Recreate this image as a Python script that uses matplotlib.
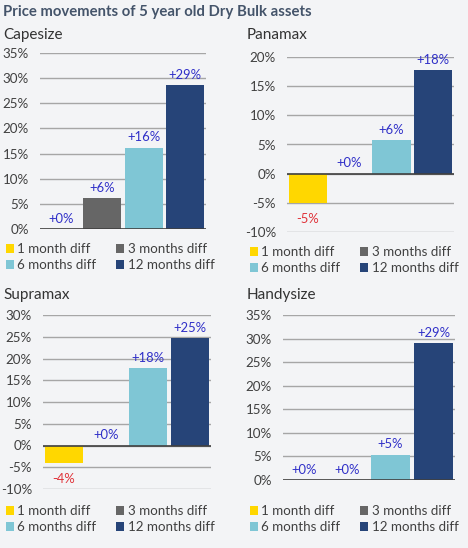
import matplotlib
matplotlib.use("Agg")
import matplotlib.pyplot as plt
from matplotlib.patches import Patch
from matplotlib.ticker import FuncFormatter

plt.rcParams['font.family'] = ['Lato', 'DejaVu Sans']

# Data
periods = ["1 month diff", "3 months diff", "6 months diff", "12 months diff"]
capesize = [0.0, 6.1, 16.2, 28.7]
panamax = [-5.1, 0.0, 5.8, 17.8]
supramax = [-4.1, 0.0, 17.8, 24.6]
handysize = [0.0, 0.0, 5.4, 29.0]
capesize_ticks = [0, 5, 10, 15, 20, 25, 30, 35]
panamax_ticks = [-10, -5, 0, 5, 10, 15, 20]
supramax_ticks = [-10, -5, 0, 5, 10, 15, 20, 25, 30]
handysize_ticks = [0, 5, 10, 15, 20, 25, 30, 35]

BG = '#f3f4f6'
COLORS = ['#ffd700', '#666666', '#7fc6d5', '#264478']
TXT = '#404040'
W, H = 468, 548


def fx(px):
    return px / W


def fy(py):
    return 1 - py / H


fig = plt.figure(figsize=(W / 100, H / 100), dpi=100, facecolor=BG)

fig.text(fx(3), fy(12), "Price movements of 5 year old Dry Bulk assets",
         fontsize=10.7, fontweight='bold', color='#44546a', va='center', ha='left')

panels = [
    ("Capesize", capesize, capesize_ticks, (40, 206, 53, 229), (3, 35), (6, 243)),
    ("Panamax", panamax, panamax_ticks, (287, 454, 57, 232), (247, 35), (250, 246)),
    ("Supramax", supramax, supramax_ticks, (43, 211, 315, 489), (3, 295), (6, 505)),
    ("Handysize", handysize, handysize_ticks, (283, 455, 315, 480), (247, 295), (250, 505)),
]

for name, vals, ticks, (x0, x1, y0, y1), tpos, lpos in panels:
    ax = fig.add_axes([fx(x0), fy(y1), fx(x1 - x0), (y1 - y0) / H])
    ax.set_facecolor(BG)
    xs = range(len(vals))
    bars = ax.bar(xs, vals, width=0.92, color=COLORS, zorder=3)
    ax.set_xlim(-0.5, len(vals) - 0.5)
    ax.set_ylim(ticks[0], ticks[-1])
    ax.set_yticks(ticks)
    ax.yaxis.set_major_formatter(FuncFormatter(lambda v, p: f"{v:.0f}%"))
    ax.tick_params(axis='y', length=0, pad=8, labelsize=9.6, labelcolor=TXT)
    ax.set_xticks([])
    for s in ax.spines.values():
        s.set_visible(False)
    ax.grid(axis='y', color='#a6a6a6', linewidth=1.0, zorder=0)
    ax.axhline(0, color='#404040', linewidth=1.2, zorder=4)

    for x, v in zip(xs, vals):
        r = round(v)
        if v < 0:
            ax.annotate(f"{r:d}%", (x, v), xytext=(0, -7), textcoords='offset points',
                        ha='center', va='top', fontsize=9.4, color='#e0333a')
        else:
            ax.annotate(f"+{r:d}%", (x, v), xytext=(0, 3), textcoords='offset points',
                        ha='center', va='bottom', fontsize=9.4, color='#3030c8')

    fig.text(fx(tpos[0]), fy(tpos[1]), name, fontsize=11, color='#333333',
             va='center', ha='left')

    handles = [Patch(facecolor=c, edgecolor='none') for c in COLORS]
    order = [0, 2, 1, 3]
    ax.legend([handles[i] for i in order], [periods[i] for i in order],
              ncol=2, loc='upper left', bbox_to_anchor=(fx(lpos[0]), fy(lpos[1])),
              bbox_transform=fig.transFigure, frameon=False, fontsize=9.6,
              handlelength=0.6, handleheight=0.6, handletextpad=0.25,
              columnspacing=1.5, labelspacing=0.3, borderpad=0, borderaxespad=0,
              labelcolor=TXT)

fig.savefig("out.png", dpi=100, facecolor=BG)
